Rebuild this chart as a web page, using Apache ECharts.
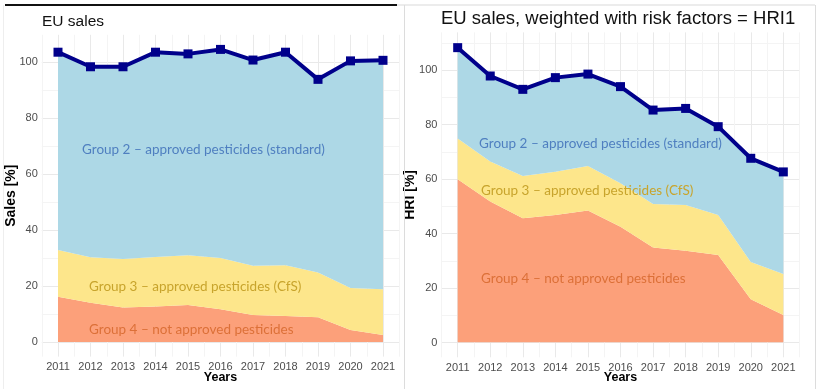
<!DOCTYPE html>
<html>
<head>
<meta charset="utf-8">
<script src="https://cdn.jsdelivr.net/npm/echarts@6/dist/echarts.min.js"></script>
<style>html,body{margin:0;padding:0;background:#fff}#c{width:820px;height:389px}</style>
</head>
<body>
<div id="c"></div>
<script>
// ---- data ----
const years = ['2011','2012','2013','2014','2015','2016','2017','2018','2019','2020','2021'];
const yTickLabels = ['0','20','40','60','80','100'];

// Left panel: EU sales [%]
const salesTotal  = [103.5, 98.3, 98.3, 103.5, 102.9, 104.5, 100.7, 103.5, 93.8, 100.4, 100.6];
const salesGroup4 = [16.2, 14.0, 12.3, 12.7, 13.2, 11.7, 9.6, 9.3, 8.8, 4.3, 2.5];
const salesGroup3 = [16.7, 16.3, 17.3, 17.7, 17.8, 18.3, 17.6, 18.1, 16.0, 15.0, 16.3];

// Right panel: HRI1 [%]
const hriTotal  = [108.2, 97.8, 92.9, 97.2, 98.5, 93.9, 85.3, 85.9, 79.2, 67.6, 62.6];
const hriGroup4 = [59.9, 51.7, 45.6, 46.8, 48.4, 42.5, 34.9, 33.7, 32.1, 15.9, 10.1];
const hriGroup3 = [15.0, 14.7, 15.5, 15.9, 16.4, 15.9, 15.9, 16.8, 14.7, 13.6, 15.0];

const titles = ['EU sales', 'EU sales, weighted with risk factors = HRI1'];
const yNames = ['Sales [%]', 'HRI [%]'];
const xName = 'Years';
const labelG2 = 'Group 2 \u2013 approved pesticides (standard)';
const labelG3 = 'Group 3 \u2013 approved pesticides (CfS)';
const labelG4 = 'Group 4 \u2013 not approved pesticides';

// ---- styles ----
const C_BLUE = '#add8e6', C_YEL = '#fde68b', C_RED = '#fca07a', C_LINE = '#00008b';
const GRID_MAJ = '#e9e9e9', GRID_MIN = '#f4f4f4';
const TXT_G2 = '#4f7fc0', TXT_G3 = '#c8a42c', TXT_G4 = '#dc7038';
const ANN_FONT = 'Lato, "Open Sans", sans-serif';
const SANS = '"Liberation Sans", Arial, sans-serif';

const chart = echarts.init(document.getElementById('c'), null, {renderer: 'canvas'});

function diff(total, a, b) { return total.map((t, i) => +(t - a[i] - b[i]).toFixed(2)); }

const panels = [
  {panel: {left: 41.75, top: 34.8, width: 357.5, height: 321.8},
   data:  {left: 41.75, top: 34.0, width: 357.5, height: 308.0},
   total: salesTotal, g4: salesGroup4, g3: salesGroup3, showTop: false},
  {panel: {left: 441.4, top: 32.4, width: 358.2, height: 324.9},
   data:  {left: 441.4, top: 42.75, width: 358.2, height: 299.75},
   total: hriTotal, g4: hriGroup4, g3: hriGroup3, showTop: true}
];

const grid = [], xAxis = [], yAxis = [], series = [];
panels.forEach((p, k) => {
  const gA = grid.length; grid.push(Object.assign({outerBoundsMode: 'none', containLabel: false}, p.panel));
  const gB = grid.length; grid.push(Object.assign({outerBoundsMode: 'none', containLabel: false}, p.data));
  // vertical grid lines (half-year steps)
  xAxis.push({gridIndex: gA, type: 'value', min: 0, max: 22, interval: 1, position: 'bottom',
    axisLabel: {show: false}, axisLine: {show: false}, axisTick: {show: false},
    splitLine: {show: true, lineStyle: {color: [GRID_MIN, GRID_MAJ], width: 1}}});
  // year labels
  xAxis.push({gridIndex: gA, type: 'category', data: years, boundaryGap: true, position: 'bottom',
    axisLine: {show: false}, axisTick: {show: false}, splitLine: {show: false},
    axisLabel: {color: '#4d4d4d', fontSize: 11, margin: 5, fontFamily: SANS, interval: 0}});
  const xData = xAxis.length;
  xAxis.push({gridIndex: gB, type: 'category', data: years, boundaryGap: true, show: false});
  // y name holder
  yAxis.push({gridIndex: gA, type: 'value', min: 0, max: 1,
    axisLabel: {show: false}, axisLine: {show: false}, axisTick: {show: false}, splitLine: {show: false},
    name: yNames[k], nameLocation: 'middle', nameGap: 24, nameRotate: 90,
    nameTextStyle: {color: '#000', fontSize: 14, fontWeight: 'bold', fontFamily: SANS}});
  const yData = yAxis.length;
  yAxis.push({gridIndex: gB, type: 'value', min: 0, max: 110, interval: 10,
    axisLine: {show: false}, axisTick: {show: false},
    axisLabel: {color: '#4d4d4d', fontSize: 11, margin: 4, fontFamily: SANS,
      showMaxLabel: false,
      formatter: v => (yTickLabels.indexOf(String(v)) >= 0 ? String(v) : '')},
    splitLine: {show: true, showMaxLine: p.showTop, lineStyle: {color: [GRID_MAJ, GRID_MIN], width: 1}}});
  const g2 = diff(p.total, p.g4, p.g3);
  const area = (name, data, color) => ({
    name, type: 'line', xAxisIndex: xData, yAxisIndex: yData, stack: 'S' + k, data,
    symbol: 'none', lineStyle: {width: 0}, areaStyle: {color, opacity: 1}, z: 2, silent: true
  });
  series.push(area('Group 4', p.g4, C_RED));
  series.push(area('Group 3', p.g3, C_YEL));
  series.push(area('Group 2', g2, C_BLUE));
  series.push({name: 'Total', type: 'line', xAxisIndex: xData, yAxisIndex: yData, data: p.total,
    symbol: 'rect', symbolSize: 9, lineStyle: {color: C_LINE, width: 4},
    itemStyle: {color: C_LINE}, z: 5, silent: true});
});

function ann(text, x, y, color) {
  return {type: 'text', left: x, top: y - 6, z: 100,
    style: {text, fill: color, font: '13.5px ' + ANN_FONT, textVerticalAlign: 'top'}};
}
function xTitle(cx) {
  return {type: 'text', x: cx, y: 378, z: 100,
    style: {text: xName, fill: '#000', font: 'bold 12.5px ' + SANS, align: 'center', verticalAlign: 'middle'}};
}

const graphic = [
  {type: 'text', left: 42, top: 14, z: 100, style: {text: titles[0], fill: '#111', font: '15.5px ' + SANS}},
  {type: 'text', left: 441, top: 9, z: 100, style: {text: titles[1], fill: '#111', font: '18.5px ' + SANS}},
  xTitle(220.5),
  xTitle(620.5),
  {type: 'line', z: 100, shape: {x1: 5, y1: 5, x2: 397, y2: 5}, style: {stroke: '#111', lineWidth: 2}},
  {type: 'line', z: 100, shape: {x1: 397, y1: 5, x2: 815, y2: 5}, style: {stroke: '#d9d9d9', lineWidth: 1}},
  {type: 'line', z: 100, shape: {x1: 404.5, y1: 5, x2: 404.5, y2: 389}, style: {stroke: '#dcdcdc', lineWidth: 1}},
  {type: 'line', z: 100, shape: {x1: 815.5, y1: 5, x2: 815.5, y2: 389}, style: {stroke: '#dcdcdc', lineWidth: 1}},
  {type: 'line', z: 100, shape: {x1: 3.5, y1: 5, x2: 3.5, y2: 389}, style: {stroke: '#eeeeee', lineWidth: 1}},
  ann(labelG2, 82, 149, TXT_G2),
  ann(labelG3, 89, 286, TXT_G3),
  ann(labelG4, 89, 329, TXT_G4),
  ann(labelG2, 479, 143, TXT_G2),
  ann(labelG3, 481, 190, TXT_G3),
  ann(labelG4, 481, 278, TXT_G4)
];

chart.setOption({animation: false, backgroundColor: '#fff', grid, xAxis, yAxis, series, graphic});
</script>
</body>
</html>
